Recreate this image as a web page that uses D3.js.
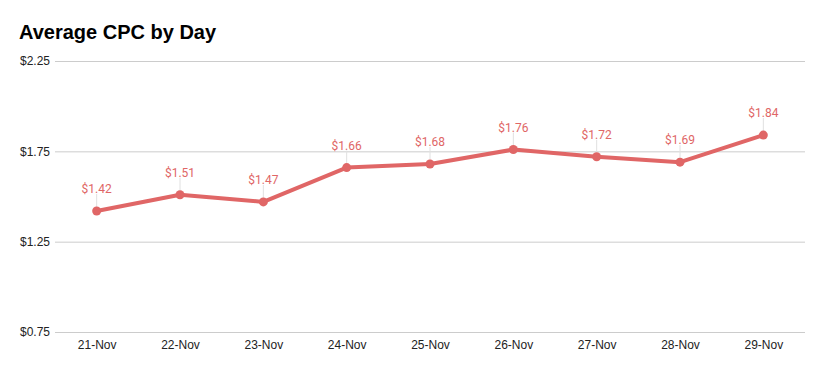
<!DOCTYPE html>
<html>
<head>
<meta charset="utf-8">
<script src="https://cdn.jsdelivr.net/npm/d3@7"></script>
<style>
  body { margin: 0; background: #fff; }
  svg { display: block; }
</style>
</head>
<body>
<svg id="chart" width="823" height="371"></svg>
<script>
// data
const days = ["21-Nov", "22-Nov", "23-Nov", "24-Nov", "25-Nov", "26-Nov", "27-Nov", "28-Nov", "29-Nov"];
const cpc = [1.42, 1.51, 1.47, 1.66, 1.68, 1.76, 1.72, 1.69, 1.84];
const yTicks = [0.75, 1.25, 1.75, 2.25];

const red = "#e06666";
const svg = d3.select("#chart");
const margin = {left: 55, right: 18, top: 61, bottom: 39};
const width = 823, height = 371;

const x = d3.scalePoint()
	.domain(days)
	.range([margin.left, width - margin.right])
	.padding(0.5);

const y = d3.scaleLinear()
	.domain([0.75, 2.25])
	.range([height - margin.bottom, margin.top]);

// title
svg.append("text")
	.attr("x", 19)
	.attr("y", 39)
	.attr("font-family", "'Liberation Sans', Arial, sans-serif")
	.attr("font-weight", "bold")
	.attr("font-size", 20)
	.attr("fill", "#000")
	.text("Average CPC by Day");

// y axis with gridlines
const yAxis = svg.append("g")
	.attr("transform", `translate(${margin.left},0)`)
	.call(d3.axisLeft(y)
		.tickValues(yTicks)
		.tickSize(-(width - margin.left - margin.right))
		.tickPadding(5)
		.tickFormat(d => "$" + d3.format(".2f")(d)));
yAxis.select(".domain").remove();
yAxis.selectAll(".tick line").attr("stroke", "#cccccc").attr("stroke-width", 1);
yAxis.selectAll(".tick text")
	.attr("font-family", "Arial, 'Liberation Sans', sans-serif")
	.attr("font-size", 12)
	.attr("fill", "#222");

// x axis
const xAxis = svg.append("g")
	.attr("transform", `translate(0,${height - margin.bottom})`)
	.call(d3.axisBottom(x).tickSize(0).tickPadding(8));
xAxis.select(".domain").remove();
xAxis.selectAll(".tick text")
	.attr("font-family", "Arial, 'Liberation Sans', sans-serif")
	.attr("font-size", 12)
	.attr("fill", "#222");

const points = days.map((d, i) => ({day: d, v: cpc[i]}));

// leader lines for data labels
svg.append("g").selectAll("line")
	.data(points)
	.join("line")
	.attr("x1", d => x(d.day))
	.attr("x2", d => x(d.day))
	.attr("y1", d => y(d.v) - 17)
	.attr("y2", d => y(d.v) - 4)
	.attr("stroke", "#e0e0e0")
	.attr("stroke-width", 1);

// line
svg.append("path")
	.datum(points)
	.attr("fill", "none")
	.attr("stroke", red)
	.attr("stroke-width", 4)
	.attr("stroke-linejoin", "round")
	.attr("d", d3.line().x(d => x(d.day)).y(d => y(d.v)));

// points
svg.append("g").selectAll("circle")
	.data(points)
	.join("circle")
	.attr("cx", d => x(d.day))
	.attr("cy", d => y(d.v))
	.attr("r", 4.5)
	.attr("fill", red);

// data labels
svg.append("g").selectAll("text")
	.data(points)
	.join("text")
	.attr("x", d => x(d.day))
	.attr("y", d => y(d.v) - 18)
	.attr("text-anchor", "middle")
	.attr("font-family", "Roboto, Arial, sans-serif")
	.attr("font-size", 12)
	.attr("fill", red)
	.text(d => "$" + d3.format(".2f")(d.v));
</script>
</body>
</html>
